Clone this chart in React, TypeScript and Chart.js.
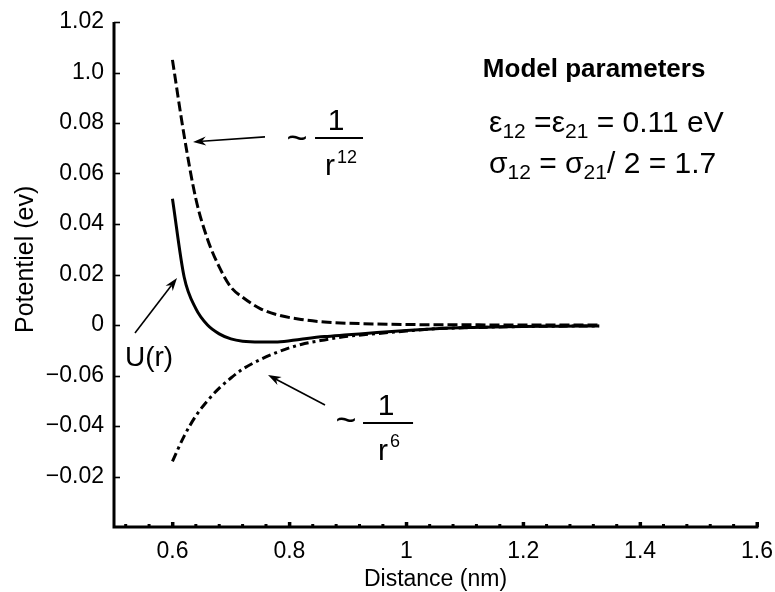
import React, { useEffect, useRef } from 'react';
import { Chart, registerables } from 'chart.js';

Chart.register(...registerables);

// ---------- data ----------
const distances = [0.60, 0.62, 0.64, 0.66, 0.68, 0.70, 0.72, 0.75, 0.78, 0.82, 0.86, 0.90, 0.95, 1.00, 1.05, 1.10, 1.15, 1.20, 1.25, 1.30, 1.33];
const repulsive = [0.105, 0.075, 0.050, 0.034, 0.023, 0.015, 0.011, 0.0065, 0.0040, 0.0022, 0.0012, 0.0007, 0.0004, 0.0002, 0.0001, 0.0001, 0.0, 0.0, 0.0, 0.0, 0.0];
const attractive = [-0.054, -0.044, -0.036, -0.030, -0.025, -0.021, -0.0175, -0.0137, -0.0107, -0.0077, -0.0059, -0.0045, -0.0034, -0.0024, -0.0015, -0.0011, -0.0008, -0.0006, -0.0005, -0.0004, -0.0004];
const potential = [0.050, 0.019, 0.0065, 0.0, -0.0035, -0.0055, -0.0064, -0.0067, -0.0067, -0.0056, -0.0046, -0.0039, -0.0030, -0.0022, -0.0015, -0.0010, -0.0008, -0.0006, -0.0005, -0.0004, -0.0004];

const xTickValues = [0.6, 0.8, 1.0, 1.2, 1.4, 1.6];
const xTickLabels = ['0.6', '0.8', '1', '1.2', '1.4', '1.6'];
const xMinorTickValues = [0.52, 0.56, 0.64, 0.68, 0.72, 0.76, 0.84, 0.88, 0.92, 0.96, 1.04, 1.08, 1.12, 1.16, 1.24, 1.28, 1.32, 1.36, 1.44, 1.48, 1.52, 1.56];
const yTickValues = [-0.06, -0.04, -0.02, 0, 0.02, 0.04, 0.06, 0.08, 0.10, 0.12];
const yTickLabels = ['\u22120.02', '\u22120.04', '\u22120.06', '0', '0.02', '0.04', '0.06', '0.08', '1.0', '1.02'];

const FONT = '"Liberation Sans", Arial, Helvetica, sans-serif';

type Run = { t: string; size: number; dy?: number; bold?: boolean };

function drawRuns(ctx: CanvasRenderingContext2D, x: number, y: number, runs: Run[]) {
  let cx = x;
  ctx.textAlign = 'left';
  ctx.textBaseline = 'alphabetic';
  for (const r of runs) {
    ctx.font = `${r.bold ? 'bold ' : ''}${r.size}px ${FONT}`;
    ctx.fillText(r.t, cx, y + (r.dy || 0));
    cx += ctx.measureText(r.t).width;
  }
}

function drawArrow(ctx: CanvasRenderingContext2D, x1: number, y1: number, x2: number, y2: number) {
  const ang = Math.atan2(y2 - y1, x2 - x1);
  const ux = Math.cos(ang), uy = Math.sin(ang);
  const hl = 13, hw = 4.5, notch = 9;
  ctx.beginPath();
  ctx.moveTo(x1, y1);
  ctx.lineTo(x2 - ux * notch, y2 - uy * notch);
  ctx.lineWidth = 1.6;
  ctx.stroke();
  ctx.beginPath();
  ctx.moveTo(x2, y2);
  ctx.lineTo(x2 - ux * hl - uy * hw, y2 - uy * hl + ux * hw);
  ctx.lineTo(x2 - ux * notch, y2 - uy * notch);
  ctx.lineTo(x2 - ux * hl + uy * hw, y2 - uy * hl - ux * hw);
  ctx.closePath();
  ctx.fill();
}

const decorPlugin = {
  id: 'decor',
  afterDraw(chart: any) {
    const ctx: CanvasRenderingContext2D = chart.ctx;
    const xs = chart.scales.x, ys = chart.scales.y;
    const X = (v: number) => xs.getPixelForValue(v);
    const Y = (v: number) => ys.getPixelForValue(v);
    const { left, right, top, bottom } = chart.chartArea;
    ctx.save();
    ctx.fillStyle = '#000';
    ctx.strokeStyle = '#000';

    // axes
    ctx.lineWidth = 3;
    ctx.beginPath();
    ctx.moveTo(left, top);
    ctx.lineTo(left, bottom);
    ctx.lineTo(right + 1.5, bottom);
    ctx.stroke();

    // y ticks (inward)
    ctx.lineWidth = 1.6;
    for (const v of yTickValues) {
      const p = Math.round(Y(v)) + 0.5;
      ctx.beginPath();
      ctx.moveTo(left, p);
      ctx.lineTo(left + 6, p);
      ctx.stroke();
    }
    // x ticks (inward)
    for (const v of xTickValues) {
      ctx.fillRect(X(v) - 1.5, bottom - 5, 3.5, 5);
    }
    for (const v of xMinorTickValues) {
      ctx.fillRect(X(v) - 1.5, bottom - 3, 3, 3);
    }

    // y-axis title
    ctx.save();
    ctx.translate(26, Y(0.026));
    ctx.rotate(-Math.PI / 2);
    ctx.font = `25px ${FONT}`;
    ctx.textAlign = 'center';
    ctx.textBaseline = 'middle';
    ctx.fillText('Potentiel (ev)', 0, 0);
    ctx.restore();

    // model parameters text
    drawRuns(ctx, X(1.131), Y(0.0982), [{ t: 'Model parameters', size: 26, bold: true }]);
    drawRuns(ctx, X(1.1416), Y(0.0764), [
      { t: '\u03B5', size: 30 },
      { t: '12', size: 21, dy: 6 },
      { t: ' =', size: 30 },
      { t: '\u03B5', size: 30 },
      { t: '21', size: 21, dy: 6 },
      { t: ' = 0.11 eV', size: 30 },
    ]);
    drawRuns(ctx, X(1.1416), Y(0.0602), [
      { t: '\u03C3', size: 30 },
      { t: '12', size: 21, dy: 6 },
      { t: ' = \u03C3', size: 30 },
      { t: '21', size: 21, dy: 6 },
      { t: '/ 2 = 1.7', size: 30 },
    ]);

    // ~ 1/r^12
    ctx.font = `36px ${FONT}`;
    ctx.textAlign = 'center';
    ctx.textBaseline = 'middle';
    ctx.fillText('~', X(0.8131), Y(0.0733));
    ctx.font = `30px ${FONT}`;
    ctx.textBaseline = 'alphabetic';
    ctx.fillText('1', X(0.8798), Y(0.0772));
    ctx.lineWidth = 2;
    ctx.beginPath();
    ctx.moveTo(X(0.8439), Y(0.0741));
    ctx.lineTo(X(0.9260), Y(0.0741));
    ctx.stroke();
    drawRuns(ctx, X(0.8610), Y(0.0594), [{ t: 'r', size: 30 }]);
    drawRuns(ctx, X(0.8815), Y(0.0642), [{ t: '12', size: 18 }]);

    // ~ 1/r^6
    ctx.font = `36px ${FONT}`;
    ctx.textAlign = 'center';
    ctx.textBaseline = 'middle';
    ctx.fillText('~', X(0.8969), Y(-0.0384));
    ctx.font = `30px ${FONT}`;
    ctx.textBaseline = 'alphabetic';
    ctx.fillText('1', X(0.9654), Y(-0.0356));
    ctx.lineWidth = 2;
    ctx.beginPath();
    ctx.moveTo(X(0.9260), Y(-0.0388));
    ctx.lineTo(X(1.0116), Y(-0.0388));
    ctx.stroke();
    drawRuns(ctx, X(0.9517), Y(-0.0535), [{ t: 'r', size: 30 }]);
    drawRuns(ctx, X(0.9722), Y(-0.0483), [{ t: '6', size: 18 }]);

    // U(r)
    drawRuns(ctx, X(0.5188), Y(-0.0162), [{ t: 'U(r)', size: 28 }]);

    // arrows
    drawArrow(ctx, X(0.7583), Y(0.0745), X(0.6352), Y(0.0725));
    drawArrow(ctx, X(0.5359), Y(-0.0032), X(0.6078), Y(0.0186));
    drawArrow(ctx, X(0.8610), Y(-0.0317), X(0.7635), Y(-0.0198));

    ctx.restore();
  },
};

export default function App() {
  const canvasRef = useRef<HTMLCanvasElement | null>(null);

  useEffect(() => {
    if (!canvasRef.current) return;
    const toPoints = (ys: number[]) => distances.map((x, i) => ({ x, y: ys[i] }));
    const chart = new Chart(canvasRef.current, {
      type: 'line',
      data: {
        datasets: [
          {
            label: 'r^-12',
            data: toPoints(repulsive),
            borderColor: '#000',
            borderWidth: 3,
            borderDash: [10, 4],
            pointRadius: 0,
            cubicInterpolationMode: 'monotone',
          },
          {
            label: 'U(r)',
            data: toPoints(potential),
            borderColor: '#000',
            borderWidth: 3,
            pointRadius: 0,
            cubicInterpolationMode: 'monotone',
          },
          {
            label: 'r^-6',
            data: toPoints(attractive),
            borderColor: '#000',
            borderWidth: 3,
            borderDash: [9, 4, 3, 4],
            pointRadius: 0,
            cubicInterpolationMode: 'monotone',
          },
        ],
      },
      options: {
        responsive: false,
        animation: false,
        devicePixelRatio: 1,
        layout: { padding: { top: 22, right: 18, left: 0, bottom: 0 } },
        plugins: { legend: { display: false }, tooltip: { enabled: false } },
        scales: {
          x: {
            type: 'linear',
            min: 0.5,
            max: 1.6,
            grid: { display: false, drawTicks: false },
            border: { display: false },
            afterBuildTicks: (s: any) => {
              s.ticks = xTickValues.map((v) => ({ value: v }));
            },
            afterFit: (s: any) => {
              s.height = 65;
              s.paddingLeft = 0;
              s.paddingRight = 0;
            },
            ticks: {
              color: '#000',
              font: { family: FONT, size: 23 },
              padding: 11,
              maxRotation: 0,
              autoSkip: false,
              callback: (v: any) => {
                const i = xTickValues.findIndex((t) => Math.abs(t - Number(v)) < 1e-6);
                return i >= 0 ? xTickLabels[i] : '';
              },
            },
            title: {
              display: true,
              text: 'Distance (nm)',
              color: '#000',
              font: { family: FONT, size: 23, lineHeight: 1 },
              padding: { top: 0, bottom: 1 },
            },
          },
          y: {
            type: 'linear',
            min: -0.08,
            max: 0.12,
            grid: { display: false, drawTicks: false },
            border: { display: false },
            afterBuildTicks: (s: any) => {
              s.ticks = yTickValues.map((v) => ({ value: v }));
            },
            afterFit: (s: any) => {
              s.width = 114;
              s.paddingTop = 0;
              s.paddingBottom = 0;
            },
            ticks: {
              color: '#000',
              font: { family: FONT, size: 23 },
              padding: 10,
              autoSkip: false,
              callback: (v: any) => {
                const i = yTickValues.findIndex((t) => Math.abs(t - Number(v)) < 1e-6);
                return i >= 0 ? yTickLabels[i] : '';
              },
            },
          },
        },
      },
      plugins: [decorPlugin],
    } as any);
    return () => chart.destroy();
  }, []);

  return (
    <div style={{ position: 'fixed', left: 0, top: 0, width: 775, height: 592, background: '#fff' }}>
      <canvas ref={canvasRef} width={775} height={592} style={{ display: 'block' }} />
    </div>
  );
}
